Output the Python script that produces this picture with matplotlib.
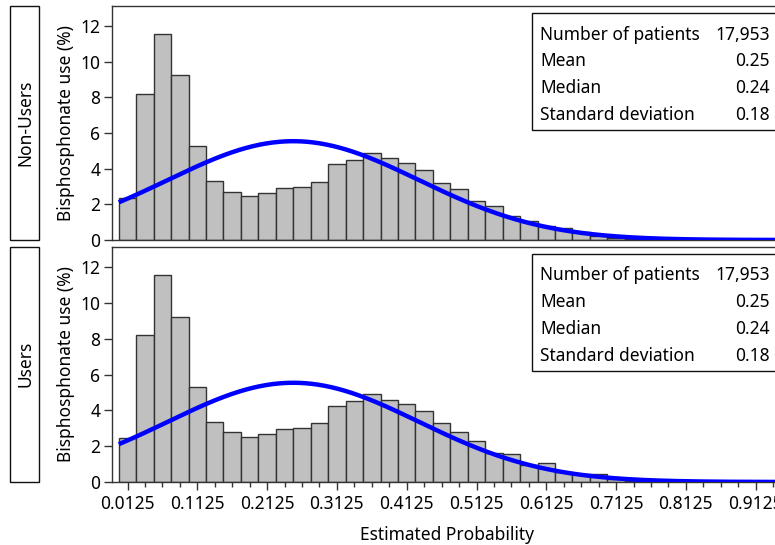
import numpy as np
import matplotlib
matplotlib.use('Agg')
import matplotlib.pyplot as plt
from matplotlib.patches import Rectangle

plt.rcParams['font.family'] = ['Noto Sans', 'DejaVu Sans']

# histogram bins of width 0.025 starting at 0
bin_width = 0.025
nonusers_pct = [2.37, 8.16, 11.56, 9.26, 5.27, 3.32, 2.71, 2.48, 2.61, 2.93, 2.99, 3.27,
                4.26, 4.48, 4.87, 4.59, 4.32, 3.92, 3.17, 2.84, 2.16, 1.88, 1.33, 1.04,
                0.76, 0.66, 0.44, 0.22, 0.13, 0.08, 0.05, 0.03, 0.02]
users_pct = [2.44, 8.19, 11.56, 9.22, 5.31, 3.37, 2.78, 2.54, 2.67, 2.98, 3.04, 3.31,
             4.26, 4.54, 4.93, 4.59, 4.37, 3.94, 3.28, 2.78, 2.28, 1.62, 1.58, 0.95,
             1.08, 0.58, 0.46, 0.43, 0.18, 0.08, 0.05, 0.03, 0.02]

panel_names = ['Non-Users', 'Users']
stat_labels = ['Number of patients', 'Mean', 'Median', 'Standard deviation']
stat_values = [['17,953', '0.25', '0.24', '0.18'],
               ['17,953', '0.25', '0.24', '0.18']]
means = [0.25, 0.25]
sds = [0.18, 0.18]

xtick_vals = [0.0125, 0.1125, 0.2125, 0.3125, 0.4125, 0.5125, 0.6125, 0.7125, 0.8125, 0.9125]
xtick_labels = ['0.0125', '0.1125', '0.2125', '0.3125', '0.4125', '0.5125', '0.6125',
                '0.7125', '0.8125', '0.9125']

W, H = 775, 545
fig = plt.figure(figsize=(W / 100, H / 100), dpi=100)


def fx(x):
    return x / W


def fy(y):
    return 1 - y / H


xmin, xmax = -0.0103, 0.95
ax_left = 111.6
ax_width = (xmax - xmin) * 698
panels = [(5.5, 240), (246.5, 482)]
edge = '#333333'

for i, (top, bottom) in enumerate(panels):
    ax = fig.add_axes([fx(ax_left), fy(bottom), ax_width / W, (bottom - top) / H])
    data = [nonusers_pct, users_pct][i]
    lefts = np.arange(len(data)) * bin_width
    ax.bar(lefts, data, width=bin_width, align='edge', color='#c0c0c0',
           edgecolor=edge, linewidth=1.0, zorder=2)

    # fitted normal curve, scaled to percent per bin
    xs = np.linspace(0, xmax, 600)
    pdf = np.exp(-0.5 * ((xs - means[i]) / sds[i]) ** 2) / (sds[i] * np.sqrt(2 * np.pi))
    ax.plot(xs, pdf * bin_width * 100, color='#0000ff', lw=3.2, zorder=3,
            solid_capstyle='butt')

    ax.set_xlim(xmin, xmax)
    ax.set_ylim(0, 13.15)
    ax.set_yticks(range(0, 13, 2))
    ax.tick_params(axis='y', length=6, width=1, color=edge, labelsize=12.5, pad=2)
    for s in ax.spines.values():
        s.set_color(edge)
        s.set_linewidth(1.0)
    ax.set_ylabel('Bisphosphonate use (%)', fontsize=12.5, labelpad=4)

    if i == 1:
        ax.set_xticks(xtick_vals)
        ax.set_xticklabels(xtick_labels)
        ax.set_xticks(np.arange(0.0125, xmax, bin_width), minor=True)
        ax.tick_params(axis='x', which='major', length=6, width=1, color=edge,
                       labelsize=12.5, pad=3.5)
        ax.tick_params(axis='x', which='minor', length=3.5, width=1, color=edge)
        ax.set_xlabel('Estimated Probability', fontsize=12.5, labelpad=9)
    else:
        ax.set_xticks([])

    # summary box
    off = top - 5.5
    fig.patches.append(Rectangle((fx(531.7), fy(130 + off)), fx(260), (130 - 12.7) / H,
                                 transform=fig.transFigure, facecolor='white',
                                 edgecolor='#111111', linewidth=1.0, zorder=5))
    for r, (lab, val) in enumerate(zip(stat_labels, stat_values[i])):
        yy = fy(34.5 + off + r * 26.7)
        fig.text(fx(540), yy, lab, fontsize=12.5, ha='left', va='center', zorder=6)
        fig.text(fx(770), yy, val, fontsize=12.5, ha='right', va='center', zorder=6)

    # panel strip on the left
    fig.patches.append(Rectangle((fx(10), fy(bottom)), fx(29), (bottom - top) / H,
                                 transform=fig.transFigure, facecolor='white',
                                 edgecolor='#111111', linewidth=1.0))
    fig.text(fx(25.5), fy((top + bottom) / 2), panel_names[i], fontsize=12.5,
             rotation=90, ha='center', va='center')

fig.savefig('out.png', dpi=100)
